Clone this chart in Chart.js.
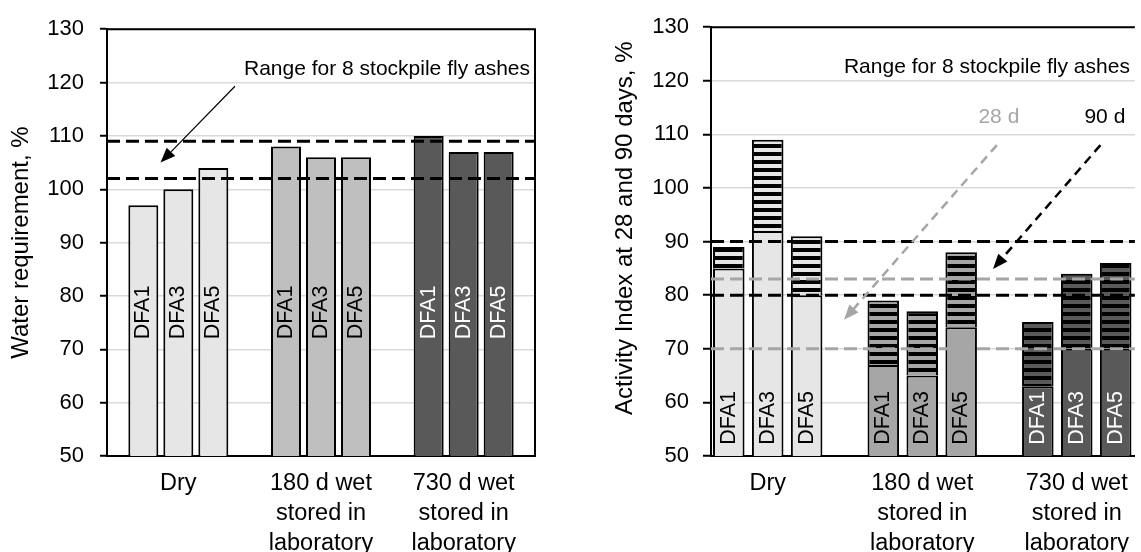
<!DOCTYPE html>
<html>
<head>
<meta charset="utf-8">
<script src="https://cdn.jsdelivr.net/npm/chart.js@4.4.1/dist/chart.umd.min.js"></script>
<style>
  html, body { margin: 0; padding: 0; background: #fff; overflow: hidden; }
  #wrap { position: relative; width: 1141px; height: 552px; }
  .box { position: absolute; top: 0; height: 552px; }
  #left { left: 0; width: 560px; }
  #right { left: 580px; width: 561px; }
</style>
</head>
<body>
<div id="wrap">
  <div class="box" id="left"><canvas id="water"></canvas></div>
  <div class="box" id="right"><canvas id="activity"></canvas></div>
</div>
<script>
(function () {
  "use strict";

  // ── Data ───────────────────────────────────────────────────

  const categories = [
    ["Dry"],
    ["180 d wet", "stored in", "laboratory"],
    ["730 d wet", "stored in", "laboratory"],
  ];
  const samples = ["DFA1", "DFA3", "DFA5"];
  const yTickLabels = [50, 60, 70, 80, 90, 100, 110, 120, 130];

  // water requirement, %
  const waterDFA1 = [97, 108, 110];
  const waterDFA3 = [100, 106, 107];
  const waterDFA5 = [104, 106, 107];
  const waterRange = [102, 109];

  // activity index, %
  const act28DFA1 = [85, 67, 63];
  const act28DFA3 = [92, 65, 70];
  const act28DFA5 = [80, 74, 70];
  const act90DFA1 = [89, 79, 75];
  const act90DFA3 = [109, 77, 84];
  const act90DFA5 = [91, 88, 86];
  const range28 = [70, 83];
  const range90 = [80, 90];

  // ── Styles ─────────────────────────────────────────────────

  const FAMILY = "'Liberation Sans', Arial, sans-serif";
  const GREY = "#a6a6a6";
  const waterFills = ["#e6e6e6", "#bfbfbf", "#595959"];
  const actFills = ["#e6e6e6", "#a6a6a6", "#595959"];
  const nameColors = ["#000", "#000", "#fff"];

  Chart.defaults.font.family = FAMILY;
  Chart.defaults.font.size = 22;
  Chart.defaults.color = "#000";

  function stripes(ctx, color) {
    const tile = document.createElement("canvas");
    tile.width = 4;
    tile.height = 8;
    const t = tile.getContext("2d");
    t.fillStyle = color;
    t.fillRect(0, 0, 4, 8);
    t.fillStyle = "#000";
    t.fillRect(0, 0, 4, 4);
    return ctx.createPattern(tile, "repeat");
  }

  function drawArrow(ctx, x1, y1, x2, y2, a) {
    const ang = Math.atan2(y2 - y1, x2 - x1);
    const hx = x2 - a.head * Math.cos(ang);
    const hy = y2 - a.head * Math.sin(ang);
    const w = a.head * 0.4;
    ctx.strokeStyle = a.color;
    ctx.lineWidth = a.width;
    ctx.setLineDash(a.dash || []);
    ctx.beginPath();
    ctx.moveTo(x1, y1);
    ctx.lineTo(hx, hy);
    ctx.stroke();
    ctx.setLineDash([]);
    ctx.fillStyle = a.color;
    ctx.beginPath();
    ctx.moveTo(x2, y2);
    ctx.lineTo(hx + w * Math.sin(ang), hy - w * Math.cos(ang));
    ctx.lineTo(hx - w * Math.sin(ang), hy + w * Math.cos(ang));
    ctx.closePath();
    ctx.fill();
  }

  // names in bars, range lines, arrows, notes, plot frame
  const overlay = {
    id: "overlay",
    afterDatasetsDraw(chart, args, opts) {
      const { ctx, chartArea: area, scales: { x, y } } = chart;
      ctx.save();
      ctx.font = "21.5px " + FAMILY;
      ctx.textAlign = "center";
      ctx.textBaseline = "middle";
      chart.data.datasets.forEach((ds, i) => {
        if (!ds.sample) return;
        chart.getDatasetMeta(i).data.forEach((bar, j) => {
          ctx.save();
          ctx.translate(bar.x, y.getPixelForValue(opts.nameAt));
          ctx.rotate(-Math.PI / 2);
          ctx.fillStyle = nameColors[j];
          ctx.fillText(ds.sample, 0, 0);
          ctx.restore();
        });
      });

      ctx.lineWidth = 3;
      ctx.setLineDash([13, 6]);
      opts.lines.forEach((l) => {
        const py = y.getPixelForValue(l.value);
        ctx.strokeStyle = l.color;
        ctx.beginPath();
        ctx.moveTo(area.left, py);
        ctx.lineTo(area.right, py);
        ctx.stroke();
      });
      ctx.setLineDash([]);

      opts.arrows.forEach((a) => {
        drawArrow(ctx,
          x.getPixelForValue(a.from[0]), y.getPixelForValue(a.from[1]),
          x.getPixelForValue(a.to[0]), y.getPixelForValue(a.to[1]), a);
      });

      ctx.textBaseline = "alphabetic";
      opts.notes.forEach((n) => {
        ctx.font = "21px " + FAMILY;
        ctx.textAlign = n.align;
        ctx.fillStyle = n.color;
        ctx.fillText(n.text, x.getPixelForValue(n.at[0]), y.getPixelForValue(n.at[1]));
      });
      ctx.restore();
    },
    afterDraw(chart, args, opts) {
      const { ctx, chartArea: a } = chart;
      ctx.save();
      ctx.strokeStyle = "#000";
      ctx.lineWidth = 2;
      ctx.beginPath();
      ctx.moveTo(a.left, a.top);
      ctx.lineTo(a.right, a.top);
      if (opts.frameRight) ctx.lineTo(a.right, a.bottom);
      ctx.stroke();
      ctx.restore();
    },
  };

  function yScale(title, width, tickPad, tickLen, titlePad) {
    return {
      stacked: false,
      min: yTickLabels[0],
      max: yTickLabels[yTickLabels.length - 1],
      ticks: { stepSize: yTickLabels[1] - yTickLabels[0], padding: tickPad },
      grid: { color: "#d9d9d9", lineWidth: 1.5, tickColor: "#000", tickLength: tickLen, tickWidth: 2 },
      border: { color: "#000", width: 2 },
      title: { display: true, text: title, font: { size: 24 }, padding: { top: titlePad, bottom: 0 } },
      afterFit: (s) => { s.width = width; },
    };
  }

  const xTicks = { padding: 12, maxRotation: 0, autoSkip: false, font: { size: 23.5, lineHeight: 1.28 } };

  // ── Water requirement ──────────────────────────────────────

  const waterSeries = [waterDFA1, waterDFA3, waterDFA5];
  new Chart(document.getElementById("water"), {
    type: "bar",
    data: {
      labels: categories,
      datasets: samples.map((s, i) => ({
        label: s,
        sample: s,
        data: waterSeries[i],
        backgroundColor: waterFills,
        borderColor: "#000",
        borderWidth: 2,
        categoryPercentage: 0.736,
        barPercentage: 0.857,
      })),
    },
    options: {
      responsive: true,
      maintainAspectRatio: false,
      animation: false,
      layout: { padding: { top: 24, right: 25, left: 0, bottom: 0 } },
      plugins: {
        legend: { display: false },
        tooltip: { enabled: false },
        overlay: {
          frameRight: true,
          nameAt: 76.9,
          lines: waterRange.map((v) => ({ value: v, color: "#000" })),
          arrows: [{ from: [0.397, 119.3], to: [-0.125, 105.0], color: "#000", width: 1.2, head: 15 }],
          notes: [{ text: "Range for 8 stockpile fly ashes", at: [2.465, 121.5], align: "right", color: "#000" }],
        },
      },
      scales: {
        x: {
          ticks: xTicks,
          grid: { display: false, drawTicks: false },
          border: { color: "#000", width: 2 },
          afterFit: (s) => { s.height = 96; },
        },
        y: yScale("Water requirement, %", 107, 16, 7, 7),
      },
    },
    plugins: [overlay],
  });

  // ── Activity index ─────────────────────────────────────────

  const actCanvas = document.getElementById("activity");
  const actPatterns = actFills.map((c) => stripes(actCanvas.getContext("2d"), c));
  const act28 = [act28DFA1, act28DFA3, act28DFA5];
  const act90 = [act90DFA1, act90DFA3, act90DFA5];
  const actSets = [];
  samples.forEach((s, i) => {
    const common = {
      stack: s,
      borderColor: "#000",
      borderWidth: 2,
      categoryPercentage: 0.756,
      barPercentage: 0.81,
    };
    actSets.push(Object.assign({
      label: s + " 28 d",
      sample: s,
      data: act28[i].map((v, j) => ({ x: j, y: v })),
      backgroundColor: actFills,
    }, common));
    actSets.push(Object.assign({
      label: s + " 90 d",
      data: act90[i].map((v, j) => ({ x: j, y: [act28[i][j], v] })),
      backgroundColor: actPatterns,
    }, common));
  });

  new Chart(actCanvas, {
    type: "bar",
    data: { datasets: actSets },
    options: {
      responsive: true,
      maintainAspectRatio: false,
      animation: false,
      layout: { padding: { top: 24, right: 0, left: 0, bottom: 0 } },
      plugins: {
        legend: { display: false },
        tooltip: { enabled: false },
        overlay: {
          frameRight: false,
          nameAt: 57.1,
          lines: range28.map((v) => ({ value: v, color: GREY }))
            .concat(range90.map((v) => ({ value: v, color: "#000" }))),
          arrows: [
            { from: [1.483, 108.0], to: [0.494, 75.4], color: GREY, width: 2.5, dash: [9, 6], head: 15 },
            { from: [2.153, 108.0], to: [1.458, 84.9], color: "#000", width: 2.5, dash: [9, 6], head: 15 },
          ],
          notes: [
            { text: "Range for 8 stockpile fly ashes", at: [2.344, 121.5], align: "right", color: "#000" },
            { text: "28 d", at: [1.496, 112.1], align: "center", color: GREY },
            { text: "90 d", at: [2.182, 112.1], align: "center", color: "#000" },
          ],
        },
      },
      scales: {
        x: {
          type: "linear",
          offset: false,
          min: -0.367,
          max: 2.376,
          afterBuildTicks: (s) => { s.ticks = categories.map((c, i) => ({ value: i })); },
          ticks: Object.assign({ callback: (v) => categories[v] }, xTicks),
          grid: { display: false, drawTicks: false },
          border: { color: "#000", width: 2 },
          afterFit: (s) => { s.height = 96; },
        },
        y: yScale("\u00a0\u00a0\u00a0\u00a0Activity Index at 28 and 90 days, %", 131, 14, 8, 31),
      },
    },
    plugins: [overlay],
  });
})();
</script>
</body>
</html>
